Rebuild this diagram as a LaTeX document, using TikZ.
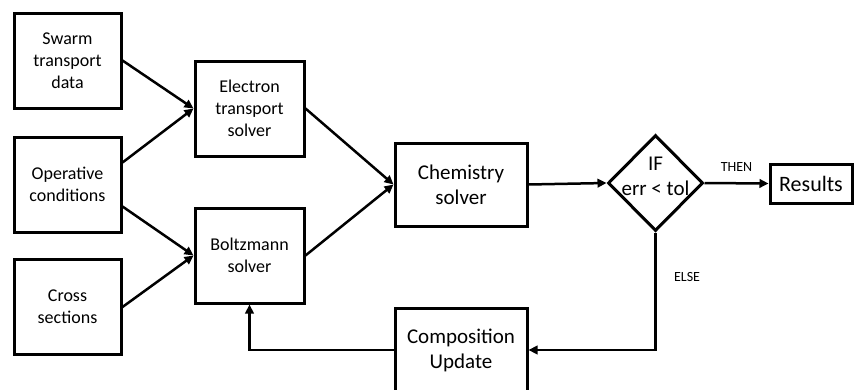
\documentclass[tikz,border=0pt]{standalone}
\usepackage{fontspec}
\setmainfont{Carlito}
\usetikzlibrary{arrows.meta,positioning,shapes.geometric}

\begin{document}
\begin{tikzpicture}[
x=1pt,y=-1pt,
inbox/.style={rectangle,draw,line width=3pt,minimum width=107pt,minimum height=95pt,inner sep=0pt,align=center,font=\fontsize{18}{22}\selectfont},
solver/.style={inbox,minimum width=109pt},
bigbox/.style={rectangle,draw,line width=3pt,minimum width=132pt,minimum height=83pt,inner sep=0pt,align=center,font=\fontsize{21}{25}\selectfont},
decision/.style={diamond,draw,line width=3pt,minimum width=95pt,minimum height=96pt,inner sep=0pt},
small/.style={font=\fontsize{14}{16}\selectfont},
arr/.style={-{Triangle[length=9pt,width=8.5pt]},line width=2.5pt}
]
\useasboundingbox (0,0) rectangle (855,389);
% inputs
\node[inbox] (swarm) at (67.5,60.5) {Swarm\\transport\\data};
\node[inbox] (oper) at (67.5,184.5) {Operative\\conditions};
\node[inbox] (cross) at (67.5,307) {Cross\\sections};
% solvers
\node[solver] (elec) at (249.5,108.5) {Electron\\transport\\solver};
\node[solver] (boltz) at (249.5,255.5) {Boltzmann\\solver};
\node[bigbox] (chem) at (461,184.5) {Chemistry\\solver};
\node[bigbox,minimum height=84pt] (comp) at (461,350) {Composition\\Update};
\node[decision] (dec) at (655.5,183) {};
\node[align=center,font=\fontsize{21}{25}\selectfont] (cond) at ([yshift=7pt]dec.center) {IF\\err < tol};
\node[rectangle,draw,line width=3pt,minimum width=82pt,minimum height=39pt,inner sep=0pt,font=\fontsize{22}{26}\selectfont] (res) at (811,183.5) {Results};
% connectors
\draw[arr] (swarm.east) -- (elec.west);
\draw[arr] ([yshift=22pt]oper.east) -- (elec.west);
\draw[arr] ([yshift=-22pt]oper.east) -- (boltz.west);
\draw[arr] (cross.east) -- (boltz.west);
\draw[arr] (elec.east) -- (chem.west);
\draw[arr] (boltz.east) -- (chem.west);
\draw[arr] (chem.east) -- (dec.west);
\draw[arr] (dec.east) -- node[above=7pt,small] {THEN} (res.west);
\draw[arr] (dec.south) |- node[pos=0.19,right=14pt,small] {ELSE} (comp.east);
\draw[arr] (comp.west) -| (boltz.south);
\end{tikzpicture}
\end{document}
